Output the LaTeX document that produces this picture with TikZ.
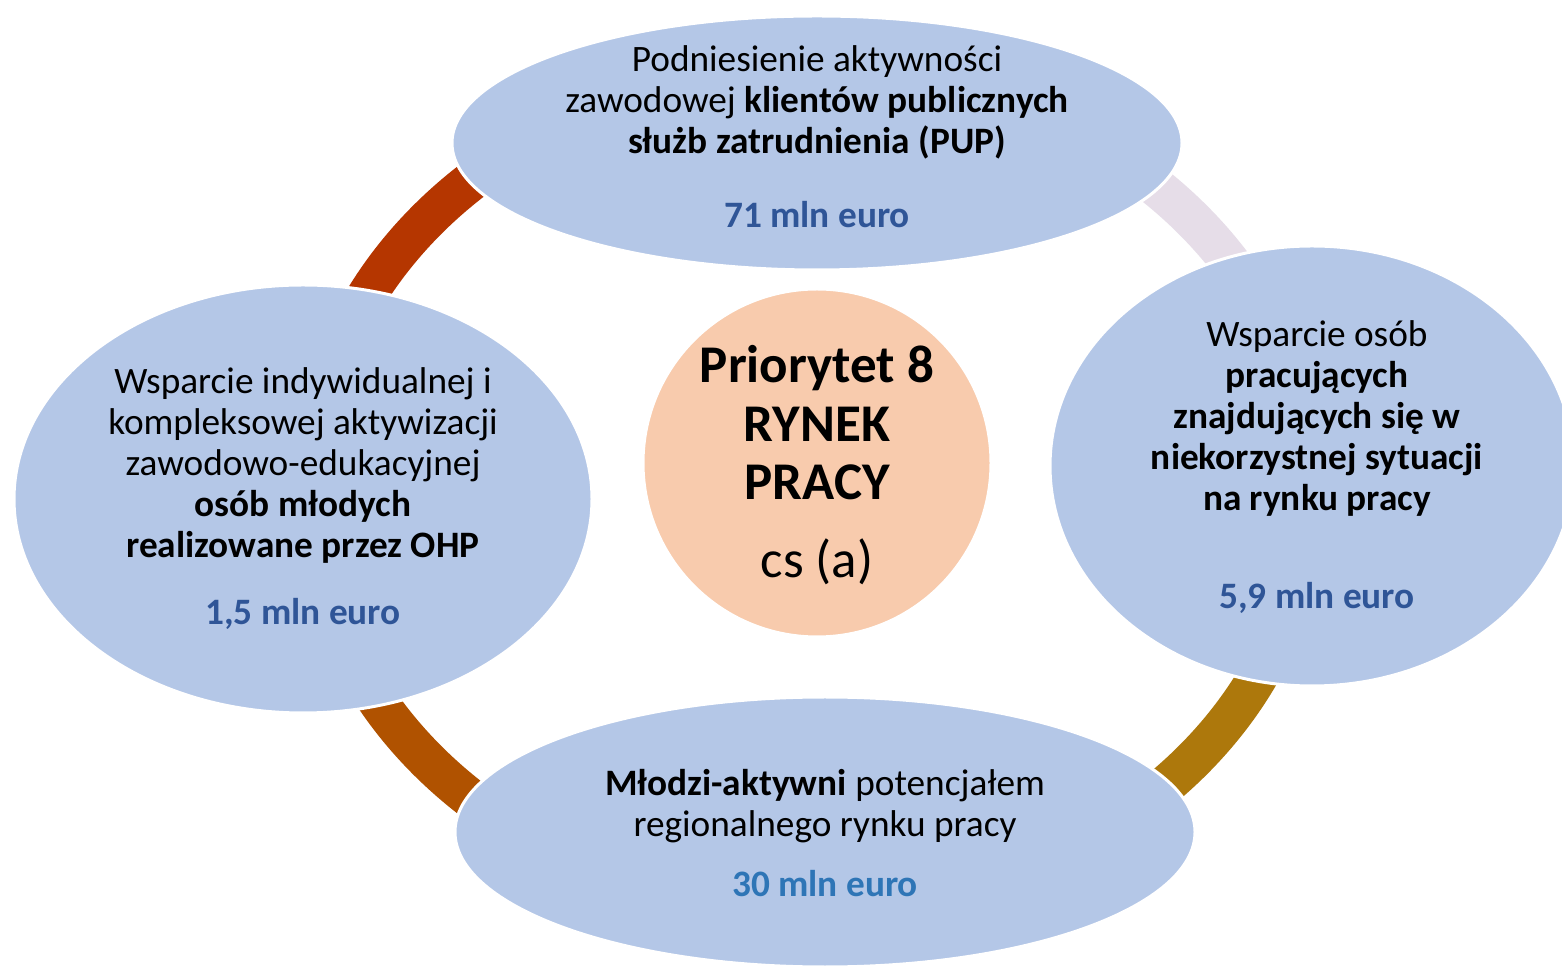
\documentclass[tikz,border=0pt]{standalone}
\usepackage{fontspec}
\setmainfont{Carlito}
\usetikzlibrary{shapes.geometric}
\definecolor{ellfill}{HTML}{B4C7E7}
\definecolor{cenfill}{HTML}{F8CBAD}
\definecolor{ringA}{HTML}{B53600}
\definecolor{ringB}{HTML}{E6DDE8}
\definecolor{ringC}{HTML}{AD780C}
\definecolor{ringD}{HTML}{B05200}
\definecolor{amtdark}{HTML}{2F5597}
\definecolor{amtlight}{HTML}{2E75B6}
\tikzset{
  ell/.style={ellipse, fill=ellfill, draw=white, line width=3pt, inner sep=0pt},
  body/.style={align=center, inner sep=0pt, font=\fontsize{37.3}{41}\selectfont},
  amount/.style={inner sep=0pt, font=\fontsize{37.3}{41}\selectfont\bfseries},
  big/.style={align=center, inner sep=0pt, font=\fontsize{53}{58.5}\selectfont},
  ringseg/.style={line width=40pt}
}
\begin{document}
\begin{tikzpicture}[x=1pt,y=1pt]
\useasboundingbox[fill=white] (0,0) rectangle (1562,966);
\coordinate (ring) at (810,476);
% ring segments
\draw[ringseg, ringA] ([shift={(115:500pt and 420pt)}]ring) arc[start angle=115, end angle=165, x radius=500pt, y radius=420pt];
\draw[ringseg, ringB] ([shift={(30:500pt and 420pt)}]ring) arc[start angle=30, end angle=65, x radius=500pt, y radius=420pt];
\draw[ringseg, ringC] ([shift={(-65:500pt and 420pt)}]ring) arc[start angle=-65, end angle=-25, x radius=500pt, y radius=420pt];
\draw[ringseg, ringD] ([shift={(-160:500pt and 420pt)}]ring) arc[start angle=-160, end angle=-115, x radius=500pt, y radius=420pt];
% ellipses
\node[ell, minimum width=730pt, minimum height=254pt] (top) at (817,823) {};
\node[ell, minimum width=578pt, minimum height=428pt] (left) at (303,467) {};
\node[ell, minimum width=524pt, minimum height=440pt] (right) at (1312,500) {};
\node[ell, minimum width=740pt, minimum height=270pt] (bottom) at (825,134) {};
\node[circle, fill=cenfill, draw=white, line width=3pt, minimum size=348pt, inner sep=0pt] (center) at (817,503) {};
% texts
\node[body] (toptxt) at (817,864) {Podniesienie aktywności\\zawodowej \textbf{klientów publicznych}\\\textbf{służb zatrudnienia (PUP)}};
\node[amount, text=amtdark] (topamt) at (817,751) {71 mln euro};
\node[body] (lefttxt) at (303,501) {Wsparcie indywidualnej i\\kompleksowej aktywizacji\\zawodowo-edukacyjnej\\\textbf{osób młodych}\\\textbf{realizowane przez OHP}};
\node[amount, text=amtdark] (leftamt) at (303,352) {1,5 mln euro};
\node[body] (righttxt) at (1317,548) {Wsparcie osób\\\textbf{pracujących}\\\textbf{znajdujących się w}\\\textbf{niekorzystnej sytuacji}\\\textbf{na rynku pracy}};
\node[amount, text=amtdark] (rightamt) at (1317,368) {5,9 mln euro};
\node[body] (bottomtxt) at (825,159.5) {\textbf{Młodzi-aktywni} potencjałem\\regionalnego rynku pracy};
\node[amount, text=amtlight] (bottomamt) at (825,82) {30 mln euro};
\node[big, font=\fontsize{53}{58.5}\selectfont\bfseries] (centertxt) at (817,543) {Priorytet 8\\RYNEK\\PRACY};
\node[big] (centersub) at (817,404) {cs (a)};
\end{tikzpicture}
\end{document}
